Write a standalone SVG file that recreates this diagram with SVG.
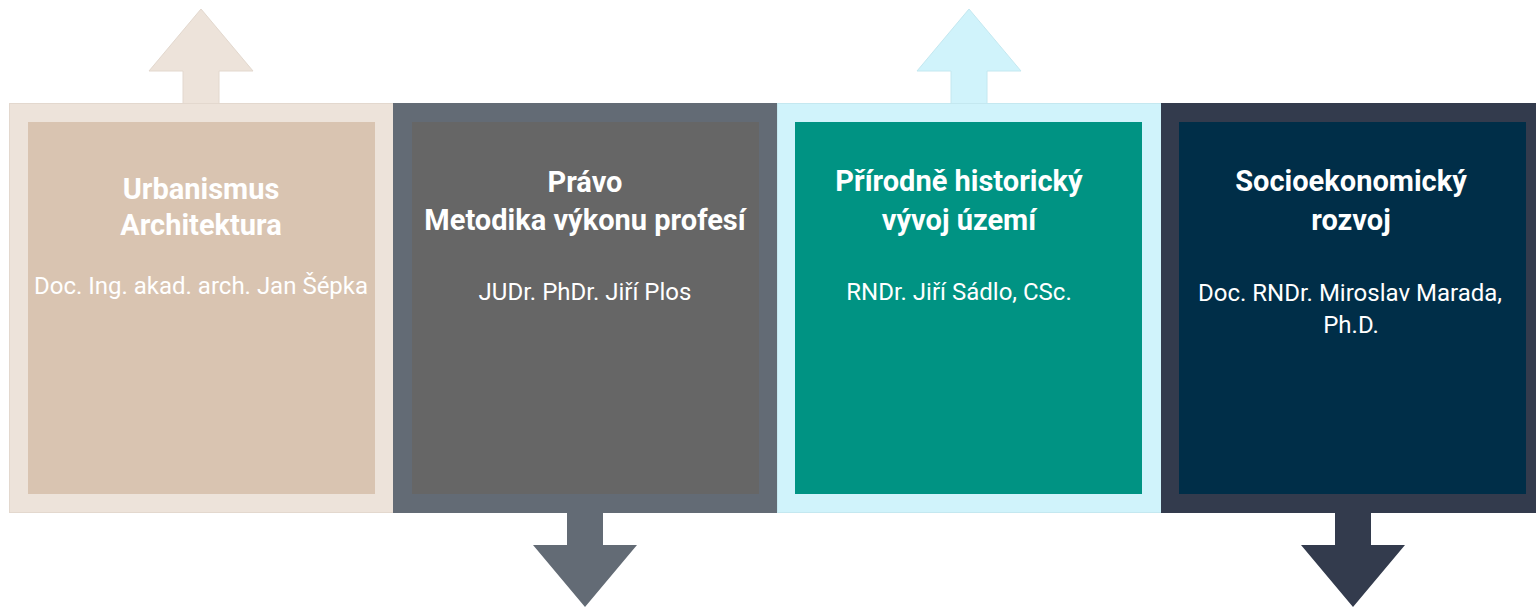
<svg xmlns="http://www.w3.org/2000/svg" width="1536" height="608" viewBox="0 0 1536 608">
<style>
.t{font-family:Roboto,"Liberation Sans",sans-serif;font-weight:700;font-size:29px;fill:#ffffff;text-anchor:middle}
.s{font-family:Roboto,"Liberation Sans",sans-serif;font-weight:400;font-size:24px;fill:#ffffff;text-anchor:middle}
</style>
<rect width="1536" height="608" fill="#ffffff"/>
<g id="connectors">
<polygon points="183,104 183,71 149,71 201,9 253,71 219,71 219,104" fill="#ede3da" stroke="#e3d8ce" stroke-width="1"/>
<polygon points="567,512 567,545 533,545 585,607 637,545 603,545 603,512" fill="#636b75"/>
<polygon points="951,104 951,71 917,71 969,9 1021,71 987,71 987,104" fill="#d0f3fb" stroke="#c4e8f0" stroke-width="1"/>
<polygon points="1335,512 1335,545 1301,545 1353,607 1405,545 1371,545 1371,512" fill="#333b4d"/>
</g>
<g id="node1">
<rect x="9.5" y="103.5" width="384" height="409" fill="#ede3da" stroke="#e3d8ce" stroke-width="1"/>
<rect x="28" y="122" width="347" height="372" fill="#d9c4b1"/>
<text class="t" x="201" y="199" fill="#fcf9f6">Urbanismus</text>
<text class="t" x="201" y="235">Architektura</text>
<text class="s" x="201" y="294">Doc. Ing. akad. arch. Jan Šépka</text>
</g>
<g id="node2">
<rect x="393" y="103" width="384" height="410" fill="#636b75"/>
<rect x="412" y="122" width="347" height="372" fill="#666666"/>
<text class="t" x="585" y="192">Právo</text>
<text class="t" x="585" y="230">Metodika výkonu profesí</text>
<text class="s" x="585" y="300">JUDr. PhDr. Jiří Plos</text>
</g>
<g id="node3">
<rect x="777.5" y="103.5" width="384" height="409" fill="#d0f3fb" stroke="#c4e8f0" stroke-width="1"/>
<rect x="795" y="122" width="347" height="372" fill="#009383"/>
<text class="t" x="959" y="191">Přírodně historický</text>
<text class="t" x="959" y="230">vývoj území</text>
<text class="s" x="959" y="300">RNDr. Jiří Sádlo, CSc.</text>
</g>
<g id="node4">
<rect x="1161" y="103" width="384" height="410" fill="#333b4d"/>
<rect x="1179" y="122" width="347" height="372" fill="#002e48"/>
<text class="t" x="1351" y="191">Socioekonomický</text>
<text class="t" x="1351" y="230">rozvoj</text>
<text class="s" x="1350" y="301">Doc. RNDr. Miroslav Marada,</text>
<text class="s" x="1351" y="333">Ph.D.</text>
</g>
</svg>
